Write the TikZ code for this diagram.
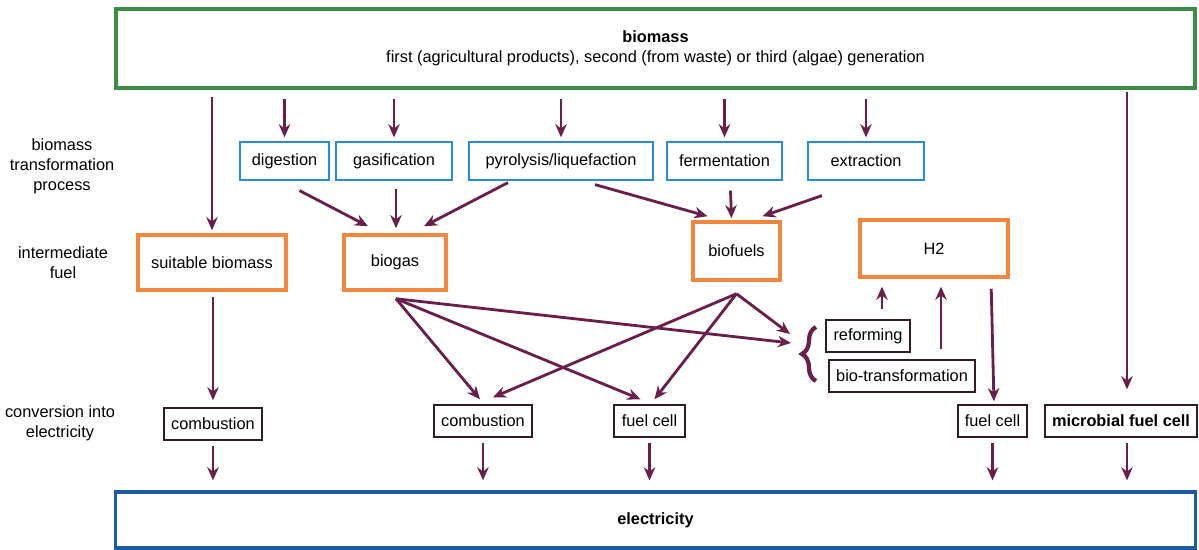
\documentclass[tikz,border=0pt]{standalone}
\usepackage{fontspec}
\setmainfont{Liberation Sans}
\usetikzlibrary{calc,arrows.meta,decorations.pathreplacing}
\definecolor{biomassgreen}{RGB}{60,140,70}
\definecolor{elecblue}{RGB}{30,90,160}
\definecolor{procblue}{RGB}{40,140,220}
\definecolor{fuelorange}{RGB}{240,135,60}
\definecolor{convdark}{RGB}{50,30,30}
\definecolor{arrowpurple}{RGB}{105,30,75}

\begin{document}
\begin{tikzpicture}[x=0.02cm,y=-0.02cm,
  font=\fontsize{9.3}{11.5}\selectfont,
  proc/.style={draw=procblue,line width=0.7pt,fill=white,inner sep=0pt,minimum height=0.76cm},
  fuel/.style={draw=fuelorange,line width=2pt,fill=white,inner sep=0pt},
  conv/.style={draw=convdark,line width=0.8pt,fill=white,inner sep=0pt,minimum height=0.64cm},
  arr/.style={draw=arrowpurple,line width=1.6pt,-{Stealth[length=7.5pt,width=6.5pt]}},
  brc/.style={draw=arrowpurple,line width=2.4pt,decorate,decoration={brace,amplitude=8pt}}]
\useasboundingbox (0,0) rectangle (1199,550);

% Source and sink
\node[draw=biomassgreen,line width=2.2pt,fill=white,inner sep=0pt,minimum width=21.6cm,minimum height=1.58cm,align=center] (biomass) at (655.5,48.5)
  {\textbf{biomass}\\first (agricultural products), second (from waste) or third (algae) generation};
\node[draw=elecblue,line width=1.8pt,fill=white,inner sep=0pt,minimum width=21.6cm,minimum height=1.12cm,font=\fontsize{9.3}{11.5}\selectfont\bfseries] (elec) at (655.5,520) {electricity};

% Row labels
\node[align=center] (lproc) at (62,166) {biomass\\transformation\\process};
\node[align=center] (lfuel) at (63,263) {intermediate\\fuel};
\node[align=center] (lconv) at (60,423) {conversion into\\electricity};

% Transformation processes
\node[proc,minimum width=1.78cm] (dig) at (284.5,161) {digestion};
\node[proc,minimum width=2.32cm] (gas) at (394,161) {gasification};
\node[proc,minimum width=3.68cm] (pyr) at (561,161) {pyrolysis/liquefaction};
\node[proc,minimum width=2.30cm] (ferm) at (724.5,161) {fermentation};
\node[proc,minimum width=2.32cm] (extr) at (866,161) {extraction};

% Intermediate fuels
\node[fuel,minimum width=2.96cm,minimum height=1.1cm] (suit) at (212,262.5) {suitable biomass};
\node[fuel,minimum width=2.04cm,minimum height=1.1cm] (biogas) at (395,262.5) {biogas};
\node[fuel,minimum width=1.74cm,minimum height=1.16cm] (biofuels) at (736.5,251) {biofuels};
\node[fuel,minimum width=2.96cm,minimum height=1.14cm] (h2) at (934,248.5) {H2};

% Conversion
\node[conv,minimum width=1.96cm] (comb1) at (213,424) {combustion};
\node[conv,minimum width=1.96cm] (comb2) at (483,421) {combustion};
\node[conv,minimum width=1.42cm] (fc1) at (649.5,421) {fuel cell};
\node[conv,minimum width=1.38cm] (fc2) at (992.5,421) {fuel cell};
\node[conv,minimum width=3.04cm,font=\fontsize{9.3}{11.5}\selectfont\bfseries] (mfc) at (1121,421) {microbial fuel cell};
\node[conv,minimum width=1.68cm] (reform) at (868,336) {reforming};
\node[conv,minimum width=2.92cm] (biotr) at (902,376) {bio-transformation};

\coordinate (mfctop) at ($(mfc.north)+(6,0)$);
\coordinate (gasout) at ($(biogas.south)+(1,7)$);
\coordinate (fuelout) at ($(biofuels.south)+(0,12)$);
\coordinate (inA) at (791,343);
\coordinate (inB) at (790,334);

% From biomass
\foreach \n in {dig,gas,pyr,ferm,extr}
  \draw[arr,shorten <=5pt,shorten >=2.3pt] (\n |- biomass.south) -- (\n.north);
\draw[arr,shorten <=4pt,shorten >=1.7pt] (suit |- biomass.south) -- (suit.north);
\draw[arr,shorten <=1pt,shorten >=8.5pt] (mfctop |- biomass.south) -- (mfctop);

% Processes to fuels
\draw[arr] ($(dig.south)+(15,10)$) -- ($(biogas.north)+(-27,-7)$);
\draw[arr] ($(gas.south)+(2,8)$) -- ($(biogas.north)+(1,-5)$);
\draw[arr] ($(pyr.south)+(-53,2)$) -- ($(biogas.north)+(29,-7)$);
\draw[arr] ($(pyr.south)+(34,4)$) -- ($(biofuels.north)+(-29,-4)$);
\draw[arr] ($(ferm.south)+(6,10)$) -- ($(biofuels.north)+(-5,-2)$);
\draw[arr] ($(extr.south)+(-44,15)$) -- ($(biofuels.north)+(26,-4)$);

% Fuels to conversion
\draw[arr,shorten <=3pt,shorten >=4pt] (suit.south -| comb1) -- (comb1.north);
\draw[arr] (gasout) -- ($(comb2.north)+(-3,-5)$);
\draw[arr] (gasout) -- ($(fc1.north)+(-9,-5)$);
\draw[arr] (gasout) -- (inA);
\draw[arr] (fuelout) -- ($(comb2.north)+(10,-7)$);
\draw[arr] (fuelout) -- ($(fc1.north)+(5,-5)$);
\draw[arr] (fuelout) -- (inB);
\draw[brc] (816,381) -- (816,327);

% Hydrogen
\draw[arr,shorten <=5.7pt,shorten >=4.5pt] ($(reform.north)+(14,0)$) -- ($(h2.south)+(-52,0)$);
\draw[arr,shorten <=5.7pt,shorten >=4.5pt] ($(biotr.north)+(39,0)$) -- ($(h2.south)+(7,0)$);
\draw[arr,shorten <=5.7pt,shorten >=1.7pt] ($(h2.south)+(57,0)$) -- ($(fc2.north)+(1.5,0)$);

% To electricity
\foreach \n in {comb1,comb2,fc1,fc2}
  \draw[arr,shorten <=3pt,shorten >=5.7pt] (\n.south) -- (\n.south |- elec.north);
\draw[arr,shorten <=3pt,shorten >=5.7pt] (mfctop |- mfc.south) -- (mfctop |- elec.north);
\end{tikzpicture}
\end{document}
